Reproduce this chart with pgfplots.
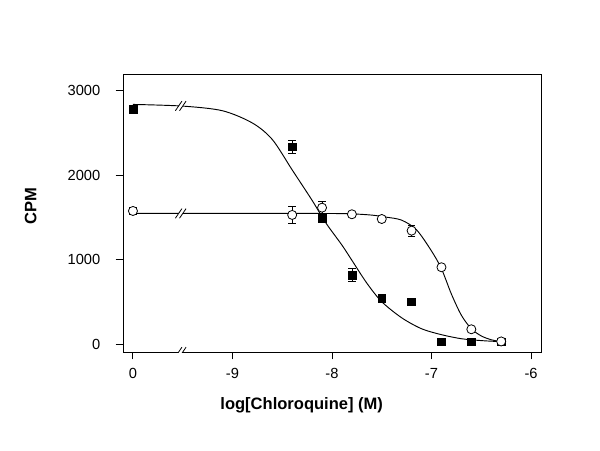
\documentclass[border=0pt]{standalone}
\usepackage{fontspec}
\setmainfont{Liberation Sans}
\usepackage{pgfplots}
\pgfplotsset{compat=1.18}

% axis break: two slashes with a white gap
\newcommand{\brk}[2]{%
  \fill[white] ([shift={(-4pt,-3.6pt)}]axis cs:#1,#2) -- ([shift={(0.9pt,3.6pt)}]axis cs:#1,#2)
    -- ([shift={(4pt,3.6pt)}]axis cs:#1,#2) -- ([shift={(-0.9pt,-3.6pt)}]axis cs:#1,#2) -- cycle;
  \draw[line width=0.6pt] ([shift={(-4pt,-3.6pt)}]axis cs:#1,#2) -- ([shift={(0.9pt,3.6pt)}]axis cs:#1,#2)
    ([shift={(-0.9pt,-3.6pt)}]axis cs:#1,#2) -- ([shift={(4pt,3.6pt)}]axis cs:#1,#2);}

\begin{document}
\begin{tikzpicture}
\path[use as bounding box] (-92.25pt,-73.5pt) rectangle (357.75pt,264pt);
\begin{axis}[
  scale only axis, width=313.5pt, height=208.5pt,
  xmin=-10.10, xmax=-5.90, ymin=-95, ymax=3195,
  axis line style={line width=0.7pt},
  tick style={line width=0.7pt, black},
  tick align=outside, major tick length=5.5pt,
  xtick pos=bottom, ytick pos=left,
  xtick={-10,-9,-8,-7,-6}, xticklabels={0,-9,-8,-7,-6},
  ytick={0,1000,2000,3000}, yticklabels={0,1000,2000,3000},
  ticklabel style={font=\fontsize{11}{13}\selectfont},
  yticklabel style={xshift=-8pt},
  xticklabel style={yshift=-3pt},
  xlabel={log[Chloroquine] (M)}, ylabel={CPM},
  label style={font=\bfseries\fontsize{12.4}{14}\selectfont},
  xlabel style={at={(axis description cs:0.4275,-0.1906)}, anchor=center},
  ylabel style={at={(axis description cs:-0.2208,0.525)}, anchor=center},
]

% fitted curves
\addplot[black, line width=0.7pt, smooth] coordinates {
  (-10,2835) (-9.5,2815) (-9.1,2760) (-8.8,2615) (-8.6,2420) (-8.4,2060)
  (-8.2,1700) (-8.06,1430) (-7.9,1170) (-7.8,990) (-7.65,720) (-7.5,500)
  (-7.3,310) (-7.1,180) (-6.9,110) (-6.7,62) (-6.5,40) (-6.3,27)
};
\addplot[black, line width=0.7pt, smooth] coordinates {
  (-10,1545) (-9.5,1545) (-9,1545) (-8.5,1545) (-8,1544) (-7.8,1540)
  (-7.6,1525) (-7.45,1500) (-7.3,1465) (-7.15,1350) (-7.0,1100) (-6.9,890)
  (-6.8,590) (-6.7,340) (-6.6,180) (-6.5,95) (-6.4,50) (-6.3,27)
};

% filled squares
\addplot[only marks, mark=square*, mark size=2.9pt, black,
  error bars/.cd, y dir=both, y explicit,
  error mark options={rotate=90, mark size=2.8pt, line width=0.6pt},
  error bar style={line width=0.6pt}] coordinates {
  (-10,2780) +- (0,30)
  (-8.4,2335) +- (0,80)
  (-8.1,1485) +- (0,30)
  (-7.8,817) +- (0,75)
  (-7.5,541) +- (0,20)
  (-7.2,501) +- (0,20)
  (-6.9,27) +- (0,10)
  (-6.6,27) +- (0,10)
  (-6.3,27) +- (0,10)
};

% open circles
\addplot[only marks, mark=*, mark size=3.4pt, mark options={fill=white, draw=black, line width=0.6pt},
  error bars/.cd, y dir=both, y explicit,
  error mark options={rotate=90, mark size=2.8pt, line width=0.6pt},
  error bar style={line width=0.6pt, black}] coordinates {
  (-10,1574) +- (0,45)
  (-8.4,1527) +- (0,98)
  (-8.1,1613) +- (0,70)
  (-7.8,1535) +- (0,20)
  (-7.5,1479) +- (0,20)
  (-7.2,1341) +- (0,65)
  (-6.9,908) +- (0,20)
  (-6.6,174) +- (0,20)
  (-6.3,30) +- (0,15)
};

% break marks
\brk{-9.52}{2817}
\brk{-9.52}{1545}
\brk{-9.52}{-95}
\end{axis}
\end{tikzpicture}
\end{document}
